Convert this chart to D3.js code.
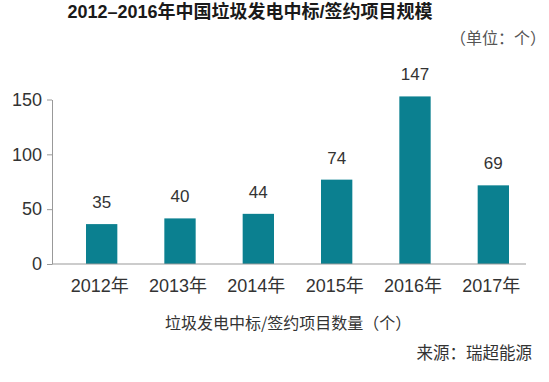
<!DOCTYPE html>
<html><head><meta charset="utf-8">
<script src="https://cdn.jsdelivr.net/npm/d3@7"></script>
<style>
body{margin:0;background:#fff;}
text{font-family:"Liberation Sans","Noto Sans CJK SC",sans-serif;}
</style></head>
<body>
<svg id="c" width="549" height="382"></svg>
<script>
const categories = ["2012年","2013年","2014年","2015年","2016年","2017年"];
const values = [35, 40, 44, 74, 147, 69];
const yTicks = [0, 50, 100, 150];
const title = "2012–2016年中国垃圾发电中标/签约项目规模";
const unitText = "（单位：个）";
const seriesName = "垃圾发电中标/签约项目数量（个）";
const sourceText = "来源：瑞超能源";

const svg = d3.select("#c");
const cjk = '"Noto Sans CJK SC","Liberation Sans",sans-serif';

const x = d3.scaleBand().domain(categories).range([62.5, 532.5]).paddingInner(0.6).paddingOuter(0.3);
const yAxisScale = d3.scaleLinear().domain([0, 150]).range([264, 99.5]);
const yBar = d3.scaleLinear().domain([0, 150]).range([264, 93]);

// title
svg.append("text").attr("x", 250).attr("y", 18).attr("text-anchor", "middle")
  .attr("font-size", 18).attr("font-weight", "bold").attr("fill", "#1a1a1a")
  .style("font-family", '"Liberation Sans","Noto Sans CJK SC",sans-serif').text(title);
svg.append("text").attr("x", 546).attr("y", 44).attr("text-anchor", "end")
  .attr("font-size", 16).attr("fill", "#555").style("font-family", cjk).text(unitText);

// bars
svg.append("g").selectAll("rect").data(values).join("rect")
  .attr("x", (d, i) => x(categories[i]))
  .attr("width", x.bandwidth())
  .attr("y", d => yBar(d))
  .attr("height", d => yBar(0) - yBar(d))
  .attr("fill", "#0b8090");

// value labels
svg.append("g").selectAll("text").data(values).join("text")
  .attr("x", (d, i) => x(categories[i]) + x.bandwidth() / 2)
  .attr("y", d => yBar(d) - 16)
  .attr("text-anchor", "middle").attr("font-size", 17).attr("fill", "#333")
  .text(d => d);

// y axis
const ya = svg.append("g").attr("transform", "translate(52,0)")
  .call(d3.axisLeft(yAxisScale).tickValues(yTicks).tickSize(5).tickSizeOuter(0).tickPadding(5));
ya.select(".domain").attr("stroke", "#999");
ya.selectAll(".tick line").attr("stroke", "#999");
ya.selectAll(".tick text").attr("font-size", 18).attr("fill", "#333").style("font-family", '"Liberation Sans",sans-serif');

// x axis
const xa = svg.append("g").attr("transform", "translate(0,264)")
  .call(d3.axisBottom(x).tickSize(0).tickPadding(0));
xa.select(".domain").remove();
xa.selectAll(".tick text").attr("font-size", 18).attr("fill", "#333")
  .attr("dy", 0).attr("y", 28).attr("dx", -2);
svg.append("line").attr("x1", 52).attr("x2", 526).attr("y1", 264).attr("y2", 264).attr("stroke", "#999");

// series name and source
svg.append("text").attr("x", 165).attr("y", 329).attr("font-size", 16).attr("fill", "#333")
  .style("font-family", cjk).text(seriesName);
svg.append("text").attr("x", 532).attr("y", 359).attr("text-anchor", "end").attr("font-size", 16.5).attr("fill", "#333")
  .style("font-family", cjk).text(sourceText);
</script>
</body></html>
